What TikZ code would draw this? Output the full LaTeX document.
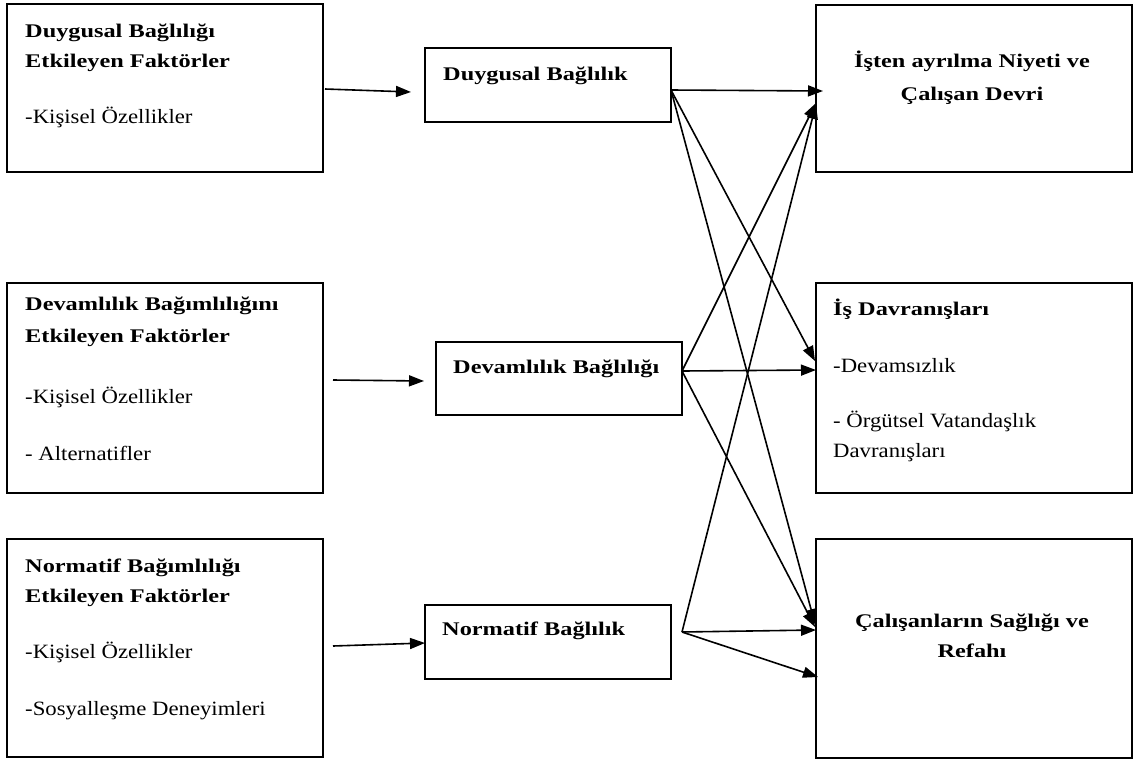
\documentclass[tikz,border=0pt]{standalone}
\usepackage{fontspec}
\setmainfont{Liberation Serif}
\newfontfamily\regf{Liberation Serif}[FakeStretch=1.12]
\newfontfamily\boldf{Liberation Serif}[FakeStretch=1.26]
\usetikzlibrary{arrows.meta}
\tikzset{
  box/.style={draw, line width=2pt, inner sep=0pt, outer sep=0pt, anchor=north west},
  rt/.style={font=\regf\fontsize{20.3}{24}\selectfont, inner sep=0pt, anchor=base west},
  bt/.style={font=\boldf\bfseries\fontsize{19.3}{23}\selectfont, inner sep=0pt, anchor=base west},
  ct/.style={font=\boldf\bfseries\fontsize{19.3}{23}\selectfont, inner sep=0pt, anchor=base},
  arr/.style={line width=1.6pt, -{Triangle[length=15pt,width=11pt]}},
}
\begin{document}
\begin{tikzpicture}[x=1pt,y=-1pt]
\useasboundingbox (0,0) rectangle (1136,761);
\fill[white] (0,0) rectangle (1136,761);
% boxes
\node[box, minimum width=316pt, minimum height=168pt] (f1) at (7,4) {};
\node[box, minimum width=316pt, minimum height=210pt] (f2) at (7,283) {};
\node[box, minimum width=316pt, minimum height=218pt] (f3) at (7,539) {};
\node[box, minimum width=246pt, minimum height=74pt] (m1) at (425,48) {};
\node[box, minimum width=246pt, minimum height=73pt] (m2) at (436,342) {};
\node[box, minimum width=246pt, minimum height=74pt] (m3) at (425,605) {};
\node[box, minimum width=316pt, minimum height=167pt] (r1) at (816,5) {};
\node[box, minimum width=316pt, minimum height=210pt] (r2) at (816,283) {};
\node[box, minimum width=316pt, minimum height=219pt] (r3) at (816,539) {};
% texts
\node[bt] (f1a) at (25,37) {Duygusal Bağlılığı};
\node[bt] (f1b) at (25,67) {Etkileyen Faktörler};
\node[rt] (f1c) at (25,123) {-Kişisel Özellikler};
\node[bt] (f2a) at (25,310) {Devamlılık Bağımlılığını};
\node[bt] (f2b) at (25,342) {Etkileyen Faktörler};
\node[rt] (f2c) at (25,403) {-Kişisel Özellikler};
\node[rt] (f2d) at (25,460) {- Alternatifler};
\node[bt] (f3a) at (25,572) {Normatif Bağımlılığı};
\node[bt] (f3b) at (25,602) {Etkileyen Faktörler};
\node[rt] (f3c) at (25,658) {-Kişisel Özellikler};
\node[rt] (f3d) at (25,715) {-Sosyalleşme Deneyimleri};
\node[bt] (m1t) at (443,80) {Duygusal Bağlılık};
\node[bt] (m2t) at (453,373) {Devamlılık Bağlılığı};
\node[bt] (m3t) at (442,635) {Normatif Bağlılık};
\node[ct] (r1a) at (972,67) {İşten ayrılma Niyeti ve};
\node[ct] (r1b) at (972,100) {Çalışan Devri};
\node[bt] (r2a) at (833,315) {İş Davranışları};
\node[rt] (r2b) at (833,372) {-Devamsızlık};
\node[rt] (r2c) at (833,427) {- Örgütsel Vatandaşlık};
\node[rt] (r2d) at (833,457) {Davranışları};
\node[ct] (r3a) at (972,627) {Çalışanların Sağlığı ve};
\node[ct] (r3b) at (972,657) {Refahı};
% connector end points
\coordinate (f1o) at (325,89);
\coordinate (m1i) at (411,92);
\coordinate (f2o) at (333,380);
\coordinate (m2i) at (424,381);
\coordinate (f3o) at (333,646);
\coordinate (m3i) at (425,643);
\coordinate (m1o) at (671,90);
\coordinate (m2o) at (682,371);
\coordinate (m3o) at (682,632);
\coordinate (r1i1) at (823,91);
\coordinate (r1i2) at (816,103);
\coordinate (r1i3) at (816,104);
\coordinate (r2i1) at (815,361);
\coordinate (r2i2) at (816,370);
\coordinate (r3i1) at (815,624);
\coordinate (r3i2) at (815,627);
\coordinate (r3i3) at (816,630);
\coordinate (r3i4) at (818,677);
% connectors
\draw[arr] (f1o) -- (m1i);
\draw[arr] (f2o) -- (m2i);
\draw[arr] (f3o) -- (m3i);
\draw[arr] (m1o) -- (r1i1);
\draw[arr] (m1o) -- (r2i1);
\draw[arr] (m1o) -- (r3i1);
\draw[arr] (m2o) -- (r1i2);
\draw[arr] (m2o) -- (r2i2);
\draw[arr] (m2o) -- (r3i2);
\draw[arr] (m3o) -- (r1i3);
\draw[arr] (m3o) -- (r3i3);
\draw[arr] (m3o) -- (r3i4);
\end{tikzpicture}
\end{document}
